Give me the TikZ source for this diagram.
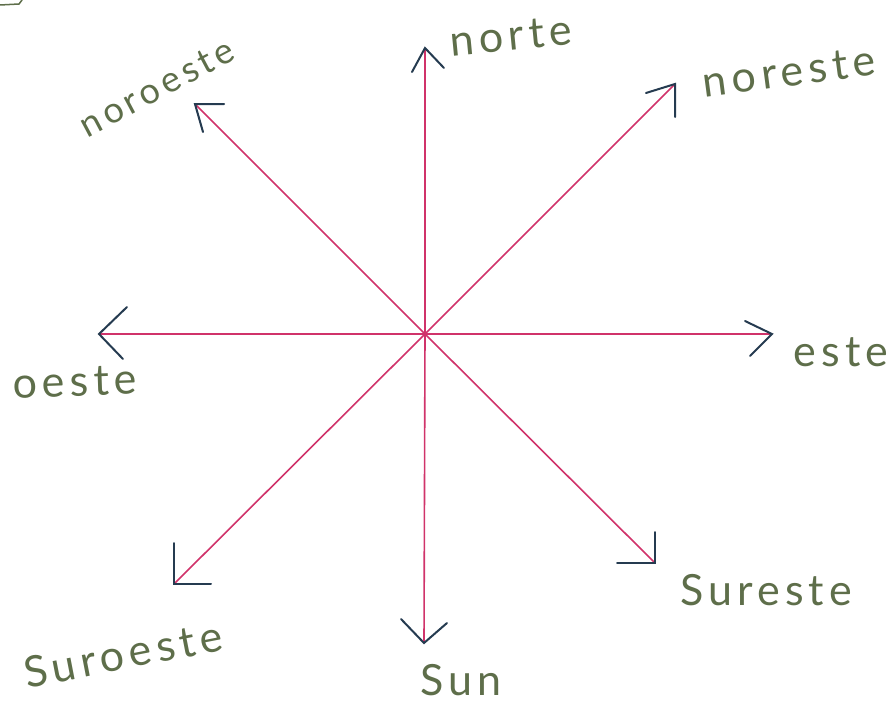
\documentclass[tikz,border=0pt]{standalone}
\usepackage{fontspec}
\setmainfont{Lato}
\newfontfamily\handfont[LetterSpace=12]{Lato}
\definecolor{txt}{HTML}{5E6E4A}
\definecolor{shaft}{HTML}{D0336A}
\definecolor{head}{HTML}{253B50}
\begin{document}
\begin{tikzpicture}[x=1pt,y=-1pt,
  shaftline/.style={draw=shaft,line width=1.6pt},
  headline/.style={draw=head,line width=2pt,line cap=round,line join=miter},
  lbl/.style={text=txt,font=\handfont\fontsize{43}{43}\selectfont,inner sep=0pt,anchor=center}]
\useasboundingbox (0,0) rectangle (895,704);
\coordinate (c) at (425,334);
% tips
\coordinate (tn) at (425,48);
\coordinate (tne) at (675,84);
\coordinate (te) at (772,334);
\coordinate (tse) at (655,563);
\coordinate (ts) at (424,643);
\coordinate (tsw) at (174,584);
\coordinate (tw) at (99,334);
\coordinate (tnw) at (195,104);
% shafts
\foreach \t in {tn,tne,te,tse,ts,tsw,tw,tnw} \draw[shaftline] (c) -- (\t);
% heads
\draw[headline] (412,72) -- (tn) -- (444,68);
\draw[headline] (646,93) -- (tne) -- (675,117);
\draw[headline] (745,321) -- (te) -- (750,356);
\draw[headline] (655,532) -- (tse) -- (617,563);
\draw[headline] (401,619) -- (ts) -- (447,623);
\draw[headline] (174,543) -- (tsw) -- (211,584);
\draw[headline] (127,307) -- (tw) -- (123,359);
\draw[headline] (224,104) -- (tnw) -- (203,132);
% fragment top-left
\draw[draw=txt,line width=1.5pt,line cap=round] (0,5) -- (19,4) -- (22,0);
% labels
\node[lbl,rotate=5.5] (norte) at (511,36) {norte};
\node[lbl,rotate=7.5] (noreste) at (789,72) {noreste};
\node[lbl,rotate=28,font=\handfont\fontsize{36}{36}\selectfont] (noroeste) at (157,88) {noroeste};
\node[lbl] (este) at (841,352) {este};
\node[lbl,rotate=2] (oeste) at (75,382) {oeste};
\node[lbl] (sureste) at (766,590) {Sureste};
\node[lbl,rotate=11] (suroeste) at (123,654) {Suroeste};
\node[lbl] (sun) at (461,680) {Sun};
\end{tikzpicture}
\end{document}
